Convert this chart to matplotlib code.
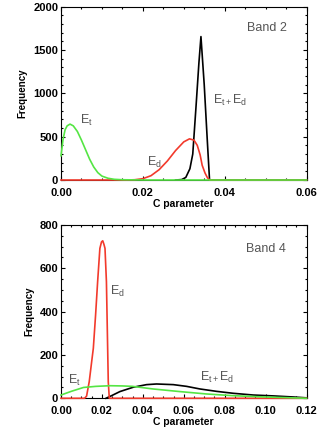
import matplotlib
matplotlib.use('Agg')
import matplotlib.pyplot as plt
from matplotlib.ticker import MultipleLocator

plt.rcParams.update({
    'font.family': ['Liberation Sans', 'DejaVu Sans'],
    'mathtext.fontset': 'custom',
    'mathtext.rm': 'Liberation Sans',
    'mathtext.it': 'Liberation Sans',
    'axes.linewidth': 0.8,
})

GREEN = '#55e544'
RED = '#f23a2c'
LABEL_GRAY = '#555555'

# --- Band 2 ---
b2_et_x = [0.0000, 0.0005, 0.0010, 0.0015, 0.0022, 0.0030, 0.0040, 0.0050, 0.0060,
           0.0070, 0.0080, 0.0090, 0.0100, 0.0115, 0.0130, 0.0150, 0.0200, 0.0600]
b2_et_y = [280, 470, 580, 625, 645, 625, 560, 460, 350,
           240, 150, 85, 45, 20, 8, 3, 0, 0]

b2_ed_x = [0.000, 0.016, 0.018, 0.020, 0.022, 0.024, 0.026, 0.028, 0.030,
           0.0314, 0.0325, 0.0333, 0.0340, 0.0345, 0.0352, 0.0358, 0.0364, 0.060]
b2_ed_y = [0, 0, 3, 15, 50, 120, 220, 340, 440,
           475, 460, 400, 290, 170, 80, 25, 0, 0]

b2_sum_x = [0.028, 0.0295, 0.0305, 0.0315, 0.0322, 0.0330, 0.0337, 0.0342,
            0.0350, 0.0357, 0.0363, 0.0600]
b2_sum_y = [0, 5, 30, 130, 300, 850, 1350, 1655,
            1100, 500, 0, 0]

# --- Band 4 ---
b4_et_x = [0.000, 0.005, 0.011, 0.017, 0.024, 0.030, 0.035, 0.045, 0.058,
           0.071, 0.084, 0.100, 0.120]
b4_et_y = [15, 32, 50, 55, 58, 57, 55, 43, 31,
           20, 12, 6, 0]

b4_ed_x = [0.000, 0.0115, 0.0125, 0.0138, 0.0150, 0.0158, 0.0169, 0.0179, 0.0190,
           0.0198, 0.0204, 0.0210, 0.0215, 0.0222, 0.0225, 0.0228, 0.0231, 0.0236, 0.120]
b4_ed_y = [0, 0, 10, 77, 170, 231, 384, 538, 692,
           722, 727, 710, 692, 538, 384, 231, 77, 0, 0]

b4_sum_x = [0.022, 0.0247, 0.0288, 0.0353, 0.0418, 0.0467, 0.0549, 0.0614,
            0.0679, 0.0760, 0.0842, 0.0940, 0.1037, 0.1135, 0.120]
b4_sum_y = [0, 12, 31, 51, 63, 66, 63, 55,
            43, 32, 23, 15, 11, 6, 2]


def style_axis(ax, xmax, xmaj, xmin, ymax, ymaj, ymin):
    ax.set_xlim(0, xmax)
    ax.set_ylim(0, ymax)
    ax.xaxis.set_major_locator(MultipleLocator(xmaj))
    ax.xaxis.set_minor_locator(MultipleLocator(xmin))
    ax.yaxis.set_major_locator(MultipleLocator(ymaj))
    ax.yaxis.set_minor_locator(MultipleLocator(ymin))
    ax.xaxis.set_major_formatter(plt.FormatStrFormatter('%.2f'))
    ax.tick_params(which='both', direction='in', top=True, right=True, width=0.8)
    ax.tick_params(which='major', length=3.2)
    ax.tick_params(which='minor', length=1.6)
    ax.tick_params(axis='x', pad=5.5, labelsize=8)
    ax.tick_params(axis='y', pad=2, labelsize=8)
    for lab in ax.get_xticklabels() + ax.get_yticklabels():
        lab.set_fontweight('bold')
    ax.set_xlabel('C parameter', fontsize=7.5, fontweight='bold', labelpad=1)
    ax.set_ylabel('Frequency', fontsize=7, fontweight='bold', labelpad=4)


def draw(ax, xs, ys, color):
    # lines sit on top of the frame so the zero baseline stays visible
    ax.plot(xs, ys, color=color, lw=1.2, zorder=3, clip_on=False)


fig = plt.figure(figsize=(3.28, 4.29), dpi=100)
ax1 = fig.add_axes([0.186, 0.5804, 0.7485, 0.404])
ax2 = fig.add_axes([0.186, 0.0716, 0.7485, 0.404])

draw(ax1, b2_sum_x, b2_sum_y, 'black')
draw(ax1, b2_ed_x, b2_ed_y, RED)
draw(ax1, b2_et_x, b2_et_y, GREEN)
style_axis(ax1, 0.06, 0.02, 0.005, 2000, 500, 100)

txt = dict(color=LABEL_GRAY, fontsize=9, ha='left', va='center')
ax1.text(0.0455, 1754, 'Band 2', **txt)
ax1.text(0.0046, 692, r'E$\mathregular{_t}$', **txt)
ax1.text(0.0209, 208, r'E$\mathregular{_d}$', **txt)
ax1.text(0.0371, 923, r'E$\mathregular{_{t+}}$E$\mathregular{_d}$', **txt)

draw(ax2, b4_sum_x, b4_sum_y, 'black')
draw(ax2, b4_ed_x, b4_ed_y, RED)
draw(ax2, b4_et_x, b4_et_y, GREEN)
style_axis(ax2, 0.12, 0.02, 0.005, 800, 200, 50)

ax2.text(0.0902, 690, 'Band 4', **txt)
ax2.text(0.0239, 494, r'E$\mathregular{_d}$', **txt)
ax2.text(0.0036, 81, r'E$\mathregular{_t}$', **txt)
ax2.text(0.0679, 96, r'E$\mathregular{_{t+}}$E$\mathregular{_d}$', **txt)

fig.savefig('out.png', dpi=100)
